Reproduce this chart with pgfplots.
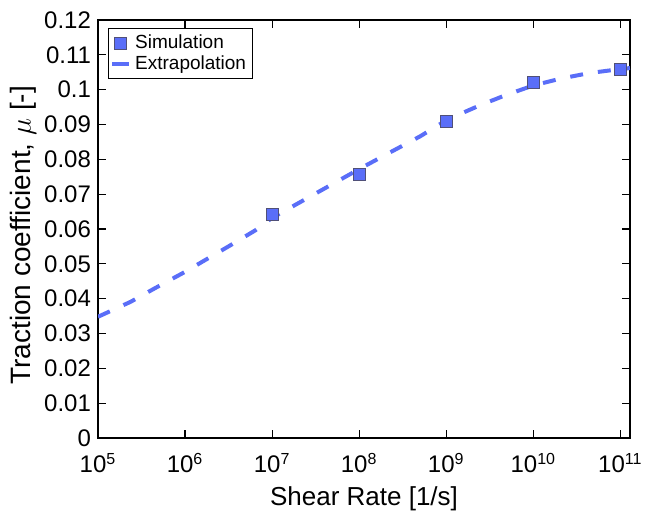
\documentclass[border=0pt]{standalone}
\usepackage{fontspec}
\setmainfont{Liberation Sans}
\usepackage{pgfplots}
\pgfplotsset{compat=1.18}
\definecolor{simblue}{RGB}{90,110,248}
\definecolor{edgegray}{RGB}{80,80,120}

\pgfplotsset{
    marklegend/.style={legend image code/.code={\draw[##1] plot coordinates {(0.15cm,0cm)};}},
    linelegend/.style={legend image code/.code={\draw[##1, solid] (0cm,0cm) -- (0.3cm,0cm);}},
}

\begin{document}
\begin{tikzpicture}
\begin{axis}[
    scale only axis,
    width=266pt, height=209pt,
    xmode=log, log basis x=10,
    xmin=1e5, xmax=1.29e11,
    ymin=0, ymax=0.12,
    xtick={1e5,1e6,1e7,1e8,1e9,1e10,1e11},
    xticklabels={10\textsuperscript{5},10\textsuperscript{6},10\textsuperscript{7},
        10\textsuperscript{8},10\textsuperscript{9},10\textsuperscript{10},10\textsuperscript{11}},
    ytick={0,0.01,0.02,0.03,0.04,0.05,0.06,0.07,0.08,0.09,0.1,0.11,0.12},
    yticklabels={0,0.01,0.02,0.03,0.04,0.05,0.06,0.07,0.08,0.09,0.1,0.11,0.12},
    scaled y ticks=false,
    tick label style={font=\fontsize{12}{14}\selectfont},
    xticklabel shift=4pt,
    xlabel style={font=\fontsize{13}{15}\selectfont},
    ylabel style={font=\fontsize{14}{16}\selectfont, at={(ticklabel cs:0.485)}},
    xlabel={Shear Rate [1/s]},
    ylabel={Traction coefficient, $\mu$ [-]},
    ylabel shift=-3pt,
    tick align=inside,
    major tick length=4pt, minor tick length=2pt,
    every tick/.style={black, line width=0.6pt},
    axis line style={line width=0.75pt},
    legend style={at={(0.018,0.98)}, anchor=north west,
        font=\fontsize{9.5}{10}\selectfont, draw=black, line width=0.5pt,
        inner sep=1pt, row sep=-2pt},
    legend cell align=left,
]

\coordinate (sw) at (rel axis cs:0,0);
\coordinate (ne) at (rel axis cs:1,1);

% Simulation
\addplot[only marks, mark=square*, mark size=3pt,
    mark options={fill=simblue, draw=edgegray, line width=0.4pt}, marklegend]
coordinates {
    (1e7, 0.0642) (1e8, 0.0757) (1e9, 0.0908) (1e10, 0.1022) (1e11, 0.1059)
};
\addlegendentry{Simulation}

% Extrapolation
\addplot[simblue, line width=2pt, dash pattern=on 6.5pt off 7.5pt, linelegend]
coordinates {
    (1e5, 0.0348) (2.371e5, 0.0391) (4.508e5, 0.0430) (1e6, 0.0477)
    (1.706e6, 0.0511) (3.304e6, 0.0553) (6.397e6, 0.0596) (1e7, 0.0632)
    (3.162e7, 0.0702) (1e8, 0.0772) (2.188e8, 0.0818) (5.012e8, 0.0866)
    (1e9, 0.0912) (1.380e9, 0.0928) (2.432e9, 0.0955) (4.898e9, 0.0985)
    (1e10, 0.1012) (2.089e10, 0.1032) (4.467e10, 0.1048) (1e11, 0.1059)
    (1.288e11, 0.1062)
};
\addlegendentry{Extrapolation}
\end{axis}
\pgfresetboundingbox
\path ([shift={(-49pt,-37.5pt)}]sw) rectangle ([shift={(8pt,10pt)}]ne);
\end{tikzpicture}
\end{document}
